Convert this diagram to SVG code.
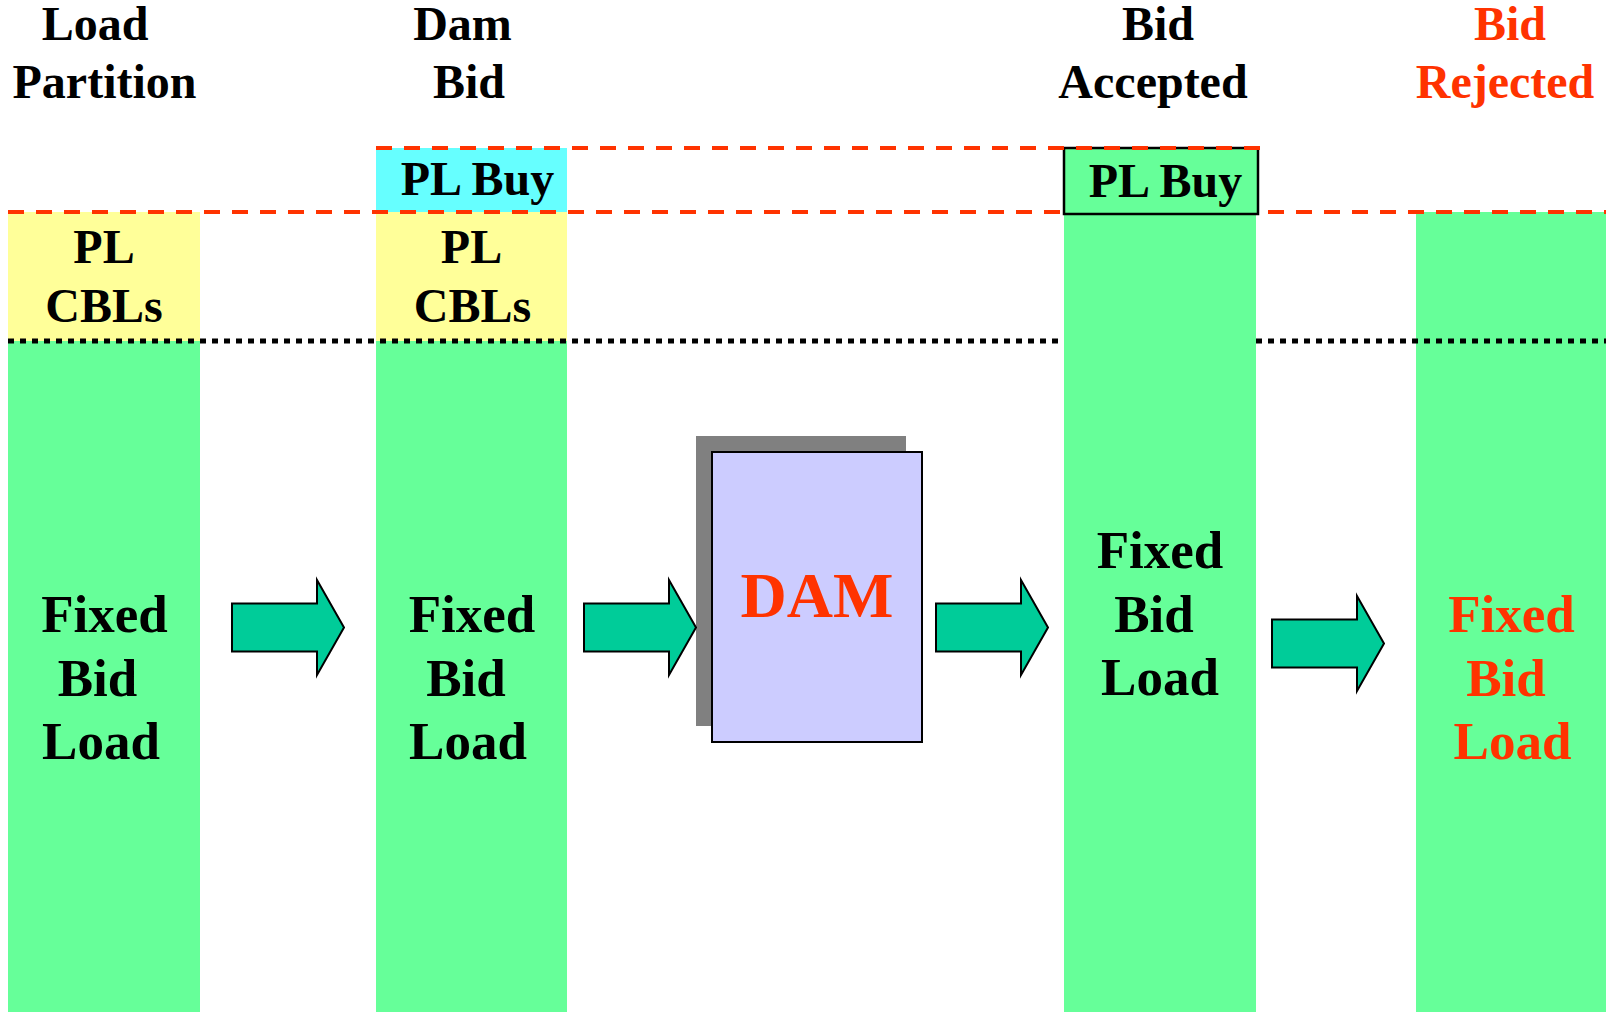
<svg xmlns="http://www.w3.org/2000/svg" xmlns:xlink="http://www.w3.org/1999/xlink" width="1606" height="1012" viewBox="0 0 1606 1012">
<style>
  .t { font-family: "Liberation Serif", "Times New Roman", serif; font-weight: bold; text-anchor: middle; fill: #000; }
  .h { font-size: 48px; }
  .b { font-size: 53px; }
  .red { fill: #FF3300; }
  .green { fill: #66FF99; }
  .yellow { fill: #FFFF99; }
  .cyan { fill: #66FFFF; }
  .dash { stroke: #FF3300; stroke-width: 4; stroke-dasharray: 16 12; fill: none; }
  .dot { stroke: #000; stroke-width: 5; stroke-dasharray: 6 6; fill: none; }
  .arrow { fill: #00CC99; stroke: #000; stroke-width: 2; stroke-linejoin: miter; }
</style>
<defs>
  <path id="blockArrow" d="M0,-24 H85 V-47.5 L112,0 L85,47.5 V24 H0 Z"/>
</defs>
<rect width="1606" height="1012" fill="#fff"/>

<g id="headers">
  <text class="t h" x="95" y="40">Load</text>
  <text class="t h" x="104.5" y="97.5">Partition</text>
  <text class="t h" x="462.5" y="40">Dam</text>
  <text class="t h" x="469" y="97.5">Bid</text>
  <text class="t h" x="1158" y="40">Bid</text>
  <text class="t h" x="1153" y="97.5">Accepted</text>
  <text class="t h red" x="1510" y="40">Bid</text>
  <text class="t h red" x="1505" y="97.5">Rejected</text>
</g>

<g id="col-load-partition">
  <rect class="green" x="8" y="341" width="192" height="671"/>
  <rect class="yellow" x="8" y="212" width="192" height="129"/>
  <text class="t h" x="104" y="263">PL</text>
  <text class="t h" x="104" y="321.5">CBLs</text>
  <text class="t b" x="104.5" y="632">Fixed</text>
  <text class="t b" x="97.5" y="695.5">Bid</text>
  <text class="t b" x="101" y="758.5">Load</text>
</g>

<g id="col-dam-bid">
  <rect class="green" x="376" y="341" width="191" height="671"/>
  <rect class="yellow" x="376" y="212" width="191" height="129"/>
  <rect class="cyan" x="376" y="148" width="191" height="64"/>
  <text class="t h" x="477.5" y="195">PL Buy</text>
  <text class="t h" x="471.5" y="263">PL</text>
  <text class="t h" x="472.5" y="321.5">CBLs</text>
  <text class="t b" x="472" y="632">Fixed</text>
  <text class="t b" x="466" y="695.5">Bid</text>
  <text class="t b" x="468" y="758.5">Load</text>
</g>

<g id="col-bid-rejected">
  <rect class="green" x="1416" y="212" width="190" height="800"/>
  <text class="t b red" x="1511.5" y="632">Fixed</text>
  <text class="t b red" x="1506" y="695.5">Bid</text>
  <text class="t b red" x="1512.5" y="758.5">Load</text>
</g>

<g id="guides">
  <line class="dot" x1="8" y1="341" x2="1606" y2="341"/>
  <line class="dash" x1="8" y1="212" x2="1606" y2="212"/>
</g>

<g id="col-bid-accepted">
  <rect class="green" x="1064" y="213" width="192" height="799"/>
  <rect class="green" x="1064" y="148" width="194" height="66" stroke="#000" stroke-width="2.5"/>
  <text class="t h" x="1165.5" y="197">PL Buy</text>
  <text class="t b" x="1160" y="568">Fixed</text>
  <text class="t b" x="1154" y="632">Bid</text>
  <text class="t b" x="1160" y="695">Load</text>
</g>

<g id="top-guide">
  <line class="dash" x1="376" y1="148" x2="1260" y2="148"/>
</g>

<g id="dam">
  <rect x="696" y="436" width="210" height="290" fill="#808080"/>
  <rect x="712" y="452" width="210" height="290" fill="#CCCCFF" stroke="#000" stroke-width="2"/>
  <text class="t red" x="817" y="617" font-size="64">DAM</text>
</g>

<g id="connectors">
  <use xlink:href="#blockArrow" href="#blockArrow" class="arrow" transform="translate(232,627.5)"/>
  <use xlink:href="#blockArrow" href="#blockArrow" class="arrow" transform="translate(584,627.5)"/>
  <use xlink:href="#blockArrow" href="#blockArrow" class="arrow" transform="translate(936,627.5)"/>
  <use xlink:href="#blockArrow" href="#blockArrow" class="arrow" transform="translate(1272,643.5)"/>
</g>
</svg>
